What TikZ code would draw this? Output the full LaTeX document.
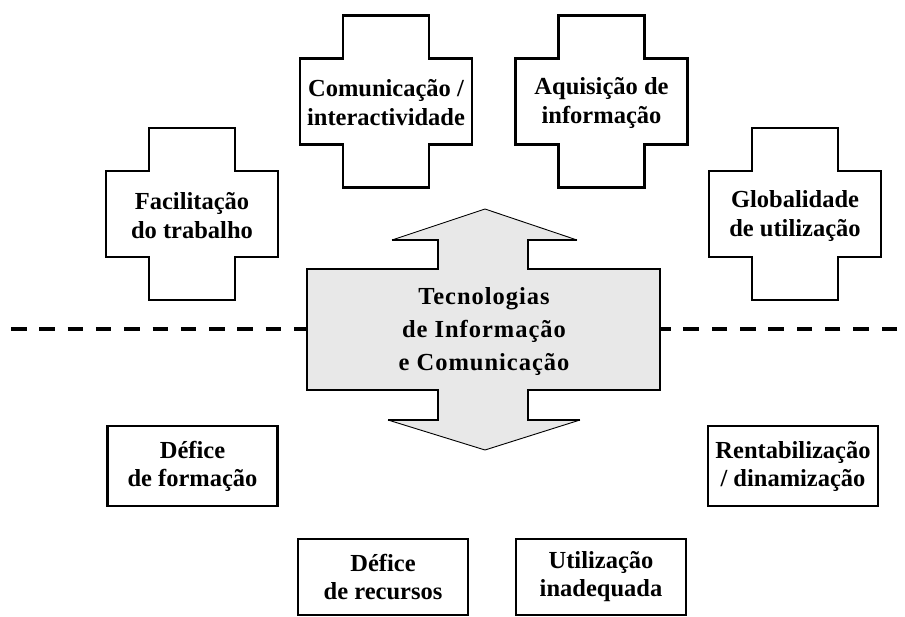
\documentclass[tikz,border=0pt]{standalone}
\usepackage{fontspec}
\setmainfont{Liberation Serif}
\newfontfamily\ticfont[LetterSpace=4]{Liberation Serif}
\begin{document}
\begin{tikzpicture}[x=1pt,y=-1pt,
  crossline/.style={draw=black,line width=2.5pt,fill=white,line join=miter},
  crosstext/.style={align=center,font=\fontsize{24.5}{29}\selectfont\bfseries,inner sep=0pt},
  boxnode/.style={draw=black,line width=2.5pt,fill=white,align=center,
    font=\fontsize{24.5}{28}\selectfont\bfseries,inner sep=0pt,
    minimum width=170pt,minimum height=80pt},
  bottombox/.style={boxnode,minimum height=76pt},
  thickedge/.style={draw=black,line width=2.5pt,line join=miter},
  thinedge/.style={draw=black,line width=0.9pt},
  dashline/.style={draw=black,line width=3.5pt,dash pattern=on 15.5pt off 12.8pt},
  plusshape/.pic={
    \path[crossline] (-43,-86) -- (43,-86) -- (43,-43) -- (86,-43) -- (86,43)
      -- (43,43) -- (43,86) -- (-43,86) -- (-43,43) -- (-86,43) -- (-86,-43)
      -- (-43,-43) -- cycle;
  }]
\useasboundingbox (0,0) rectangle (905,616);
\fill[white] (0,0) rectangle (905,616);

% crosses
\pic at (386,101.5) {plusshape};
\node[crosstext] (comm) at (386,103) {Comunicação /\\interactividade};
\pic at (601.5,101.5) {plusshape};
\node[crosstext] (aquis) at (601.5,103) {Aquisição de\\informação};
\pic at (192,214) {plusshape};
\node[crosstext] (facil) at (192,216) {Facilitação\\do trabalho};
\pic at (795,214) {plusshape};
\node[crosstext] (global) at (795,216) {Globalidade\\de utilização};

% central double arrow with rectangle
\fill[fill=black!9] (485,209) -- (577,240) -- (528,240) -- (528,269) -- (660,269)
  -- (660,390) -- (528,390) -- (528,420) -- (580,420) -- (485,450) -- (388,420)
  -- (438,420) -- (438,390) -- (307,390) -- (307,269) -- (438,269) -- (438,240)
  -- (392,240) -- cycle;
\path[thickedge] (577,240) -- (528,240) -- (528,269) -- (660,269) -- (660,390)
  -- (528,390) -- (528,420) -- (580,420);
\path[thickedge] (388,420) -- (438,420) -- (438,390) -- (307,390) -- (307,269)
  -- (438,269) -- (438,240) -- (392,240);
\path[thinedge] (392,240) -- (485,209) -- (577,240);
\path[thinedge] (580,420) -- (485,450) -- (388,420);
\node[align=center,inner sep=0pt,font=\fontsize{24.5}{33}\selectfont\ticfont\bfseries]
  (tic) at (484,332) {Tecnologias\\de Informação\\e Comunicação};

% dashed divider
\coordinate (ticW) at (307,329);
\coordinate (ticE) at (660,329);
\coordinate (dashL) at (11,329);
\coordinate (dashR) at (897,329);
\path[dashline] (dashL) -- (ticW);
\path[dashline] (dashR) -- (ticE);

% boxes
\node[boxnode] (defform) at (192.5,466) {Défice\\de formação};
\node[boxnode] (rentab) at (793,466) {Rentabilização\\/ dinamização};
\node[bottombox] (defrec) at (383,577) {Défice\\de recursos};
\node[bottombox] (utiliz) at (601,577) {Utilização\\inadequada};
\end{tikzpicture}
\end{document}
